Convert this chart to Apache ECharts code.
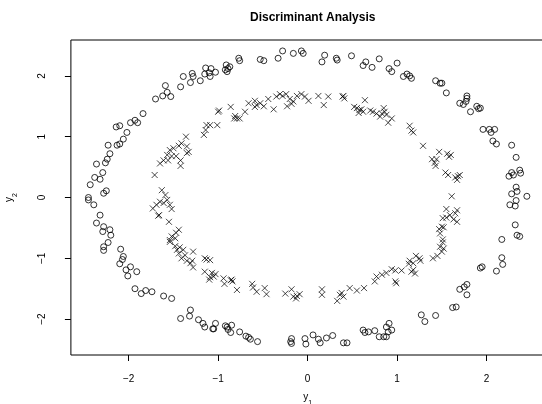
<!DOCTYPE html>
<html>
<head>
<meta charset="utf-8">
<script src="https://cdn.jsdelivr.net/npm/echarts@6/dist/echarts.min.js"></script>
<style>
  html, body { margin: 0; padding: 0; background: #fff; }
  #chart { width: 542px; height: 404px; }
</style>
</head>
<body>
<div id="chart"></div>
<script>
// outer ring, class "o"
var circles = [
  [-1.14,2.13],[-1.08,2.12],[-1.03,2.06],[-1.10,2.05],[-1.15,2.03],[-1.09,1.99],[-1.20,1.92],[-1.29,2.04],
  [-1.28,1.99],[-1.31,1.89],[-1.39,1.99],[-1.42,1.82],[-1.59,1.84],[-1.57,1.73],[-1.62,1.67],[-1.53,1.66],
  [-1.70,1.62],[-1.84,1.38],[-1.93,1.27],[-1.90,1.23],[-1.98,1.23],[-2.02,1.07],[-2.06,0.96],[-2.14,1.16],
  [-2.10,1.18],[-0.91,2.18],[-0.89,2.12],[-0.90,2.07],[-0.87,2.15],[-0.92,2.10],[-0.77,2.29],[-0.76,2.25],
  [-0.53,2.27],[-0.49,2.25],[-0.33,2.29],[-0.28,2.41],[-0.16,2.37],[-0.07,2.41],[-0.05,2.37],[0.19,2.34],
  [0.16,2.23],[0.32,2.29],[0.33,2.26],[0.49,2.33],[0.65,2.23],[0.62,2.17],[0.72,2.14],[0.80,2.28],
  [0.91,2.12],[0.94,2.07],[1.00,2.21],[1.07,1.99],[1.11,2.03],[1.14,2.00],[1.16,1.96],[1.43,1.92],
  [1.48,1.88],[1.50,1.88],[1.55,1.72],[1.70,1.55],[1.74,1.53],[1.77,1.58],[1.78,1.67],[1.78,1.63],
  [1.82,1.41],[1.89,1.50],[1.91,1.46],[1.93,1.47],[1.96,1.12],[2.03,1.12],[2.09,1.12],[2.05,1.07],
  [2.07,0.93],[2.11,0.88],[2.28,0.86],[-2.23,0.86],[-2.13,0.86],[-2.10,0.88],[-2.21,0.72],[-2.24,0.63],
  [-2.36,0.55],[-2.26,0.57],[-2.38,0.33],[-2.32,0.30],[-2.29,0.41],[-2.43,0.21],[-2.28,0.07],[-2.25,0.11],
  [-2.45,0.00],[-2.45,-0.04],[-2.39,-0.12],[-2.32,-0.29],[-2.36,-0.42],[-2.28,-0.48],[-2.21,-0.53],[-2.20,-0.62],
  [-2.29,-0.56],[2.33,0.66],[2.37,0.45],[2.38,0.40],[2.28,0.41],[2.30,0.37],[2.25,0.35],[2.33,0.17],
  [2.34,0.10],[2.28,0.06],[2.45,0.02],[2.33,-0.05],[2.26,-0.12],[2.32,-0.14],[2.32,-0.45],[2.34,-0.62],
  [2.37,-0.64],[2.17,-0.69],[-2.28,-0.81],[-2.28,-0.87],[-2.23,-0.74],[-2.09,-0.85],[-2.06,-0.97],[-2.07,-1.02],
  [-2.10,-1.09],[-1.98,-1.14],[-2.03,-1.19],[-2.01,-1.29],[-1.91,-1.22],[-1.93,-1.50],[-1.86,-1.58],[-1.81,-1.53],
  [-1.74,-1.55],[-1.61,-1.62],[-1.52,-1.66],[-1.42,-1.99],[-1.32,-1.95],[-1.31,-1.85],[-1.22,-2.01],[-1.17,-2.07],
  [-1.15,-2.13],[-1.06,-2.16],[-1.03,-2.07],[-1.05,-2.16],[-0.92,-2.11],[-0.90,-2.13],[-0.89,-2.17],[-0.85,-2.10],
  [-0.86,-2.22],[-0.76,-2.21],[-0.69,-2.28],[-0.66,-2.30],[-0.64,-2.33],[-0.56,-2.37],[-0.18,-2.32],[-0.18,-2.40],
  [-0.19,-2.37],[-0.03,-2.32],[-0.02,-2.41],[0.06,-2.26],[0.12,-2.33],[0.14,-2.39],[0.21,-2.31],[0.28,-2.27],
  [0.40,-2.39],[0.44,-2.39],[0.62,-2.18],[0.64,-2.22],[2.17,-0.99],[2.18,-1.10],[2.11,-1.21],[1.95,-1.14],
  [1.93,-1.16],[1.78,-1.43],[1.75,-1.47],[1.70,-1.51],[1.78,-1.60],[1.66,-1.80],[1.62,-1.81],[1.43,-1.94],
  [1.31,-2.04],[1.27,-1.93],[0.91,-2.07],[0.88,-2.13],[0.94,-2.18],[0.90,-2.21],[0.88,-2.29],[0.85,-2.29],
  [0.80,-2.29],[0.75,-2.19],[0.68,-2.21]
];

// inner ring, class "x"
var crosses = [
  [-1.13,1.19],[-1.14,1.11],[-1.16,1.03],[-1.36,1.00],[-1.41,0.89],[-1.44,0.85],[-1.35,0.84],[-1.50,0.81],
  [-1.00,1.41],[-0.99,1.43],[-1.01,1.19],[-1.09,1.19],[-0.86,1.49],[-0.81,1.34],[-0.79,1.30],[-0.76,1.30],
  [-0.82,1.30],[-0.70,1.41],[-0.66,1.55],[-0.59,1.59],[-0.57,1.52],[-0.53,1.55],[-0.59,1.49],[-0.49,1.50],
  [-0.44,1.62],[-0.38,1.45],[-0.35,1.66],[-0.31,1.70],[-0.28,1.67],[-0.24,1.70],[-0.23,1.50],[-0.18,1.54],
  [-0.16,1.58],[-0.20,1.62],[-0.12,1.67],[-0.07,1.70],[-0.03,1.66],[0.01,1.59],[0.12,1.67],[0.18,1.52],
  [0.23,1.66],[0.39,1.66],[0.41,1.63],[0.40,1.67],[0.52,1.49],[0.55,1.47],[0.58,1.44],[0.60,1.45],
  [0.57,1.39],[0.62,1.41],[0.64,1.60],[0.70,1.43],[0.73,1.41],[0.77,1.38],[0.81,1.33],[0.85,1.47],
  [0.86,1.41],[0.83,1.38],[0.88,1.36],[0.94,1.30],[0.90,1.23],[1.14,1.18],[1.16,1.10],[1.18,1.07],
  [1.29,0.85],[-1.33,0.75],[-1.35,0.73],[-1.54,0.78],[-1.57,0.70],[-1.52,0.68],[-1.47,0.68],[-1.61,0.61],
  [-1.65,0.56],[-1.56,0.61],[-1.42,0.61],[-1.42,0.52],[-1.71,0.37],[-1.63,0.12],[-1.59,0.04],[-1.57,-0.04],
  [-1.65,-0.07],[-1.69,-0.12],[-1.61,-0.09],[-1.54,-0.12],[-1.73,-0.18],[-1.52,-0.19],[-1.66,-0.29],[-1.67,-0.30],
  [-1.55,-0.40],[-1.44,-0.53],[-1.47,-0.58],[-1.52,-0.64],[-1.54,-0.70],[-1.48,-0.67],[1.47,0.75],[1.56,0.72],
  [1.58,0.67],[1.60,0.70],[1.39,0.63],[1.44,0.63],[1.42,0.57],[1.43,0.52],[1.54,0.41],[1.57,0.37],
  [1.65,0.33],[1.68,0.35],[1.70,0.37],[1.67,0.29],[1.61,0.02],[1.55,-0.19],[1.67,-0.21],[1.65,-0.26],
  [1.59,-0.29],[1.51,-0.34],[1.63,-0.36],[1.67,-0.40],[1.55,-0.33],[1.50,-0.48],[1.47,-0.52],[1.52,-0.49],
  [1.48,-0.59],[1.51,-0.69],[1.51,-0.74],[1.48,-0.81],[1.52,-0.84],[-1.54,-0.73],[-1.48,-0.80],[-1.43,-0.82],
  [-1.46,-0.86],[-1.39,-0.86],[-1.44,-0.92],[-1.37,-0.95],[-1.28,-0.89],[-1.41,-1.00],[-1.35,-1.04],[-1.31,-1.08],
  [-1.28,-1.15],[-1.29,-1.04],[-1.15,-1.00],[-1.13,-1.02],[-1.15,-1.22],[-1.10,-1.35],[-1.09,-1.03],[-1.07,-1.24],
  [-1.03,-1.26],[-1.05,-1.30],[-1.09,-1.31],[-0.94,-1.33],[-0.93,-1.42],[-0.85,-1.35],[-0.84,-1.38],[-0.86,-1.36],
  [-0.79,-1.52],[-0.62,-1.42],[-0.61,-1.48],[-0.57,-1.55],[-0.48,-1.49],[-0.46,-1.59],[-0.25,-1.58],[-0.18,-1.51],
  [-0.16,-1.63],[-0.12,-1.62],[-0.13,-1.66],[-0.09,-1.59],[0.16,-1.51],[0.16,-1.60],[0.33,-1.70],[0.36,-1.60],
  [0.38,-1.57],[0.40,-1.63],[0.47,-1.49],[0.55,-1.53],[0.63,-1.49],[1.50,-0.89],[1.45,-0.96],[1.40,-1.00],
  [1.21,-0.96],[1.25,-1.00],[1.14,-1.04],[1.13,-1.09],[1.18,-1.08],[1.26,-1.04],[1.05,-1.20],[1.16,-1.22],
  [1.20,-1.25],[1.18,-1.19],[0.94,-1.18],[0.98,-1.20],[0.88,-1.24],[0.83,-1.27],[0.77,-1.30],[0.75,-1.38],
  [0.98,-1.38],[0.99,-1.41]
];

var xTicks = [-2, -1, 0, 1, 2];
var yTicks = [-2, -1, 0, 1, 2];

var myChart = echarts.init(document.getElementById('chart'));
var font = 'Liberation Sans, Arial, sans-serif';

// R style minus sign on tick labels
function minus(v) { return String(v).replace('-', '\u2212'); }

myChart.setOption({
  animation: false,
  backgroundColor: '#fff',
  title: {
    text: 'Discriminant Analysis',
    left: 307.7,
    textAlign: 'center',
    top: 7,
    textStyle: { fontFamily: font, fontSize: 12, fontWeight: 'bold', color: '#000' }
  },
  grid: {
    left: 70.9,
    top: 40,
    width: 473.5,
    height: 315,
    outerBoundsMode: 'none',
    show: true,
    borderColor: '#000',
    borderWidth: 1,
    backgroundColor: 'transparent'
  },
  xAxis: {
    type: 'value',
    min: -2.646,
    max: 2.646,
    name: '{v|y}{s|1}',
    nameLocation: 'middle',
    nameGap: 36,
    nameTextStyle: {
      rich: {
        v: { fontFamily: font, fontSize: 10, color: '#000', lineHeight: 12 },
        s: { fontFamily: font, fontSize: 7, color: '#000', lineHeight: 12, verticalAlign: 'bottom', padding: [0, 0, -4, 0] }
      }
    },
    splitLine: { show: false },
    axisLine: { show: false, onZero: false },
    axisTick: { show: true, inside: false, length: 6, customValues: xTicks, lineStyle: { color: '#000', width: 1 } },
    axisLabel: { customValues: xTicks, margin: 19, fontFamily: font, fontSize: 10, color: '#000', formatter: minus }
  },
  yAxis: {
    type: 'value',
    min: -2.59,
    max: 2.59,
    name: '{v|y}{s|2}',
    nameLocation: 'middle',
    nameRotate: 90,
    nameGap: 56,
    nameTextStyle: {
      rich: {
        v: { fontFamily: font, fontSize: 10, color: '#000', lineHeight: 12 },
        s: { fontFamily: font, fontSize: 7, color: '#000', lineHeight: 12, verticalAlign: 'bottom', padding: [0, 0, -4, 0] }
      }
    },
    splitLine: { show: false },
    axisLine: { show: false, onZero: false },
    axisTick: { show: true, inside: false, length: 6, customValues: yTicks, lineStyle: { color: '#000', width: 1 } },
    axisLabel: { customValues: yTicks, rotate: 90, margin: 24, fontFamily: font, fontSize: 10, color: '#000', formatter: minus }
  },
  series: [
    {
      name: 'o',
      type: 'scatter',
      data: circles,
      symbol: 'circle',
      symbolSize: 6,
      silent: true,
      itemStyle: { color: 'rgba(0,0,0,0)', borderColor: '#000', borderWidth: 1 }
    },
    {
      name: 'x',
      type: 'scatter',
      data: crosses,
      symbol: 'path://M0,0L10,10M10,0L0,10',
      symbolSize: 6,
      silent: true,
      itemStyle: { color: 'rgba(0,0,0,0)', borderColor: '#000', borderWidth: 0.9 }
    }
  ]
});
</script>
</body>
</html>
